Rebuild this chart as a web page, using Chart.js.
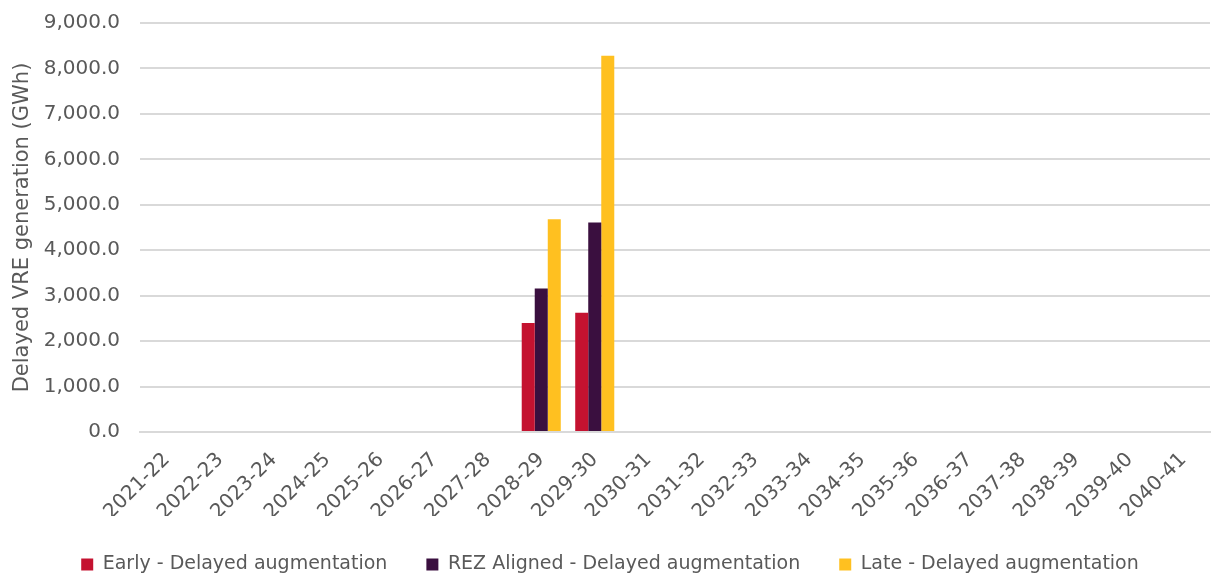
<!DOCTYPE html>
<html>
<head>
<meta charset="utf-8">
<script src="https://cdn.jsdelivr.net/npm/chart.js@4.4.1/dist/chart.umd.min.js"></script>
<style>
  html, body { margin: 0; padding: 0; background: #fff; }
  #wrap { width: 1211px; height: 574px; position: relative; }
</style>
</head>
<body>
<div id="wrap"><canvas id="c"></canvas></div>
<script>
// Financial years on the category axis
var years = ['2021-22', '2022-23', '2023-24', '2024-25', '2025-26', '2026-27', '2027-28',
  '2028-29', '2029-30', '2030-31', '2031-32', '2032-33', '2033-34', '2034-35', '2035-36',
  '2036-37', '2037-38', '2038-39', '2039-40', '2040-41'];

// Delayed VRE generation (GWh) – only 2028-29 and 2029-30 carry values
var early = [null, null, null, null, null, null, null, 2400, 2625, null, null, null, null, null, null, null, null, null, null, null];
var rezAligned = [null, null, null, null, null, null, null, 3155, 4610, null, null, null, null, null, null, null, null, null, null, null];
var late = [null, null, null, null, null, null, null, 4680, 8280, null, null, null, null, null, null, null, null, null, null, null];

var yTicks = [0, 1000, 2000, 3000, 4000, 5000, 6000, 7000, 8000, 9000];

var txt = '#595959';
var fam = '"DejaVu Sans", sans-serif';

function fmt(v) {
  return v.toLocaleString('en-US', { minimumFractionDigits: 1, maximumFractionDigits: 1 });
}

new Chart(document.getElementById('c').getContext('2d'), {
  type: 'bar',
  data: {
    labels: years,
    datasets: [
      { label: 'Early - Delayed augmentation', data: early, backgroundColor: '#C41230' },
      { label: 'REZ Aligned - Delayed augmentation', data: rezAligned, backgroundColor: '#3A0F3F' },
      { label: 'Late - Delayed augmentation', data: late, backgroundColor: '#FFC020' },
    ],
  },
  options: {
    responsive: true, maintainAspectRatio: false, animation: false,
    categoryPercentage: 0.73, barPercentage: 1,
    layout: { padding: { top: 23, right: 1, left: 10, bottom: -10 } },
    plugins: {
      tooltip: { enabled: false },
      legend: {
        position: 'bottom',
        labels: { color: txt, font: { family: fam, size: 19 }, boxWidth: 12, boxHeight: 12, padding: 39 },
      },
    },
    scales: {
      x: {
        afterFit: function (s) { s.height = 84; },
        grid: { display: false },
        border: { color: '#d9d9d9', width: 2 },
        ticks: { color: txt, font: { family: fam, size: 20 }, minRotation: 45, maxRotation: 45, padding: 8 },
      },
      y: {
        min: 0, max: 9000,
        // fixed axis width; top/bottom label overflow handled by layout padding
        afterFit: function (s) { s.width = 130; s.paddingTop = 0; s.paddingBottom = 0; },
        afterBuildTicks: function (s) { s.ticks = yTicks.map(function (v) { return { value: v }; }); },
        grid: { color: '#d9d9d9', lineWidth: 2, drawTicks: false },
        border: { display: false },
        ticks: { color: txt, font: { family: fam, size: 20 }, padding: 20, callback: function (v) { return fmt(v); } },
        title: { display: true, text: 'Delayed VRE generation (GWh)', color: txt, font: { family: fam, size: 21 }, padding: 0 },
      },
    },
  },
});
</script>
</body>
</html>
